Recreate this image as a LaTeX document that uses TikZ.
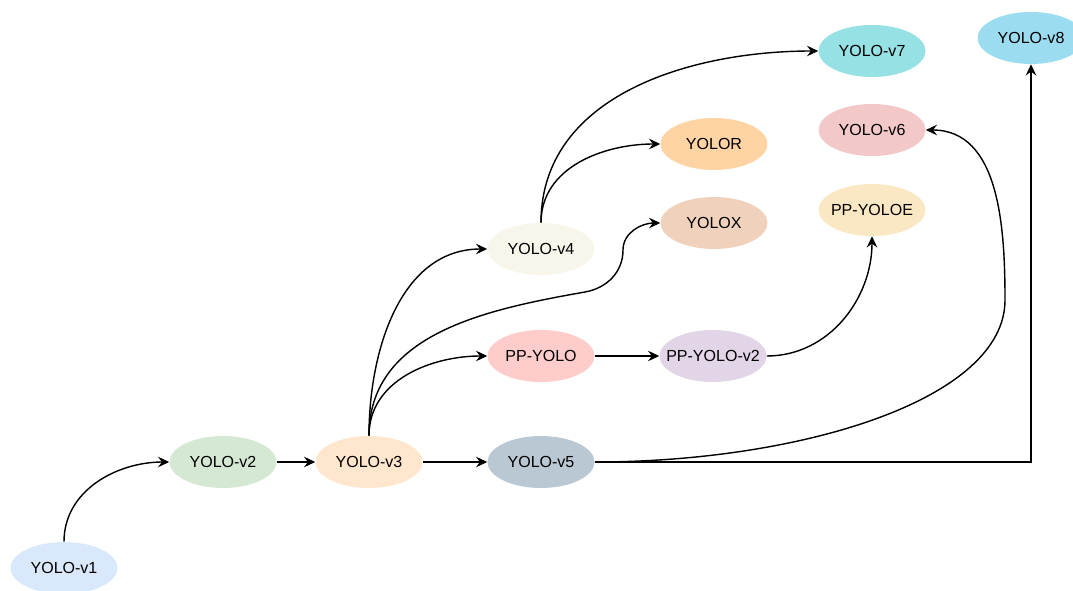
\documentclass[tikz,border=0pt]{standalone}
\usepackage{fontspec}
\setmainfont{Liberation Sans}
\usepackage{tikz}
\usetikzlibrary{positioning, shapes.geometric, arrows.meta}

\definecolor{vonecol}{HTML}{DAE8FC}
\definecolor{vtwocol}{HTML}{D5E8D4}
\definecolor{vthreecol}{HTML}{FFE6CC}
\definecolor{vfourcol}{HTML}{F8F5EA}
\definecolor{vfivecol}{HTML}{BAC8D3}
\definecolor{vsixcol}{HTML}{F2C8C8}
\definecolor{vsevencol}{HTML}{96E1E4}
\definecolor{veightcol}{HTML}{9BDCF0}
\definecolor{ppyolocol}{HTML}{FFCCCC}
\definecolor{ppyolotwocol}{HTML}{E1D5E7}
\definecolor{ppyoloecol}{HTML}{FAE8C4}
\definecolor{yoloxcol}{HTML}{F0D2BC}
\definecolor{yolorcol}{HTML}{FFD4A4}

\tikzstyle{arrow} = [line width=1pt, -{Stealth[length=8pt, width=7.5pt, inset=2.8pt]}]
\tikzstyle{model} = [ellipse, minimum width=2.675cm, minimum height=1.3cm, inner xsep=-0.25cm, inner ysep=0.1cm, text centered, font=\fontsize{11.4}{13}\selectfont]

\begin{document}
\begin{tikzpicture}[on grid, node distance=2.65cm and 4.3cm]
        \useasboundingbox (-1.6,-0.55) rectangle (25.225,14.2);
        \node (v1) [model, fill=vonecol] {YOLO-v1};
        \node (v2) [model, fill=vtwocol, above right=2.65cm and 3.975cm of v1] {YOLO-v2};
        \node (v3) [model, fill=vthreecol, right=3.65cm of v2] {YOLO-v3};
        \node (v5) [model, fill=vfivecol, right=of v3] {YOLO-v5};
        \node (ppyolo) [model, fill=ppyolocol, above=of v5] {PP-YOLO};
        \node (ppyolo2) [model, fill=ppyolotwocol, right=of ppyolo] {PP-YOLO-v2};
        \node (v4) [model, fill=vfourcol, above=2.675cm of ppyolo] {YOLO-v4};
        \node (yolox) [model, fill=yoloxcol, above right=0.65cm and 4.325cm of v4] {YOLOX};
        \node (yolor) [model, fill=yolorcol, above=1.975cm of yolox] {YOLOR};
        \node (ppyoloe) [model, fill=ppyoloecol, above right=3.65cm and 3.975cm of ppyolo2] {PP-YOLOE};
        \node (v6) [model, fill=vsixcol, above=2cm of ppyoloe] {YOLO-v6};
        \node (v7) [model, fill=vsevencol, above=1.975cm of v6] {YOLO-v7};
        \node (v8) [model, fill=veightcol, above right=0.325cm and 3.975cm of v7] {YOLO-v8};

        % bend points for the two long curves
        \coordinate (xflat) at (13.025,6.9);
        \coordinate (xrise) at (13.975,7.95);
        \coordinate (sixturn) at (23.525,6.7);

        \draw [arrow] (v1.north) to[out=90, in=180] (v2.west);
        \draw [arrow] (v2) -- (v3);
        \draw [arrow] (v3) -- (v5);
        \draw [arrow] (v3.north) to[out=90, in=180] (v4.west);
        \draw [arrow] (v3.north) to[out=90, in=180] (ppyolo.west);
        \draw [arrow] (v3.north) to[out=90, in=190] (xflat) to[out=10, in=270] (xrise) to[out=90, in=180] (yolox.west);
        \draw [arrow] (ppyolo) -- (ppyolo2);
        \draw [arrow] (ppyolo2.east) to[out=0, in=270] (ppyoloe.south);
        \draw [arrow] (v4.north) to[out=90, in=180] (yolor.west);
        \draw [arrow] (v4.north) to[out=90, in=180] (v7.west);
        \draw [arrow] (v5.east) .. controls +(5.125,0) and +(0,-2.5) .. (sixturn) to[out=90, in=0] (v6.east);
        \draw [arrow] (v5.east) -| (v8.south);
\end{tikzpicture}
\end{document}
